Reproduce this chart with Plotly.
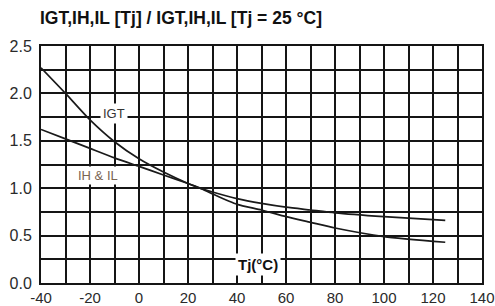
import plotly.graph_objects as go

tj = [-40, -30, -20, -10, 0, 10, 20, 25, 30, 40, 50, 60, 70, 80, 100, 125]
igt = [2.27, 2.0, 1.72, 1.49, 1.31, 1.17, 1.05, 1.0, 0.94, 0.83, 0.77, 0.70, 0.64, 0.58, 0.49, 0.43]
ih_il = [1.62, 1.52, 1.42, 1.32, 1.23, 1.14, 1.05, 1.0, 0.96, 0.89, 0.84, 0.80, 0.77, 0.74, 0.70, 0.66]

x_ticks = [-40, -20, 0, 20, 40, 60, 80, 100, 120, 140]
y_ticks = [0.0, 0.5, 1.0, 1.5, 2.0, 2.5]

fig = go.Figure()
for ys in (igt, ih_il):
    fig.add_trace(go.Scatter(x=tj, y=ys, mode="lines",
                             line=dict(color="#1a1a1a", width=1.7, shape="spline", smoothing=0.6),
                             showlegend=False, hoverinfo="skip"))

fig.update_layout(
    width=495, height=306,
    margin=dict(l=41, r=13, t=46, b=23, autoexpand=False),
    paper_bgcolor="white", plot_bgcolor="white",
    font=dict(family="Liberation Sans, Arial, sans-serif", color="#333333"),
    title=dict(text="<b>IGT,IH,IL [Tj] / IGT,IH,IL [Tj = 25 °C]</b>", x=0.0808, xanchor="left",
               y=0.941, yanchor="middle", font=dict(size=17.5, color="#111111")),
)
grid_col = "#151515"
fig.update_xaxes(range=[-40, 140], tickvals=x_ticks, ticktext=[str(v) for v in x_ticks],
                 showgrid=True, gridcolor=grid_col, gridwidth=2,
                 minor=dict(dtick=10, showgrid=True, gridcolor=grid_col, gridwidth=2),
                 zeroline=False, showline=True, linecolor=grid_col, linewidth=2, mirror=True,
                 ticks="", automargin=False, ticklabeloverflow="allow",
                 tickfont=dict(size=15, color="#2a2a2a"))
fig.update_yaxes(range=[0, 2.5], tickvals=y_ticks, ticktext=["%.1f" % v for v in y_ticks],
                 showgrid=True, gridcolor=grid_col, gridwidth=2,
                 minor=dict(dtick=0.25, showgrid=True, gridcolor=grid_col, gridwidth=2),
                 zeroline=False, showline=True, linecolor=grid_col, linewidth=2, mirror=True,
                 ticks="", ticklabelstandoff=4, automargin=False, ticklabeloverflow="allow",
                 tickfont=dict(size=16, color="#2a2a2a"))

fig.add_annotation(x=-10.3, y=1.79, text="IGT", showarrow=False, bgcolor="white",
                   font=dict(size=13, color="#333333"), borderpad=2)
fig.add_annotation(x=-16.6, y=1.13, text="IH & IL", showarrow=False, bgcolor="white",
                   font=dict(size=13, color="#7a6552"), borderpad=1)
fig.add_annotation(x=48.4, y=0.19, text="<b>Tj(°C)</b>", showarrow=False, bgcolor="white",
                   font=dict(size=15, color="#111111"), borderpad=2)

fig.write_html("out.html", config={"displayModeBar": False},
               post_script="document.body.style.margin='0';document.documentElement.style.overflow='hidden';")
